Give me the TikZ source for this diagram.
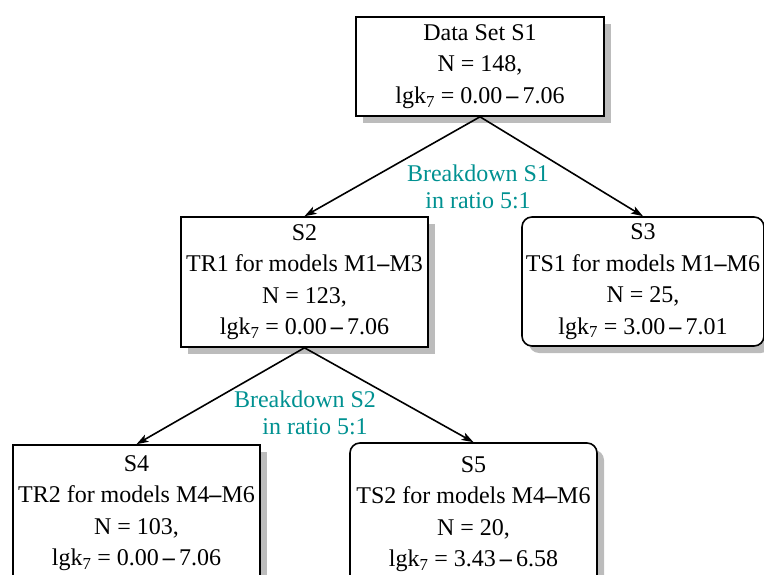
\documentclass[tikz,border=0pt]{standalone}
\usepackage{fontspec}
\setmainfont{Liberation Serif}
\usetikzlibrary{shadows,arrows.meta}
\definecolor{labelteal}{RGB}{0,145,145}
\definecolor{shadowgray}{RGB}{188,188,188}
\newcommand\lgkseven{lgk\textsubscript{7}}
\newcommand\dsh{\textbf{–}}
\newcommand\rng[2]{#1\,\dsh\,#2}

\begin{document}
\begin{tikzpicture}[x=1pt,y=-1pt,
  setbox/.style={draw=black, line width=1.6pt, fill=white, align=center,
    inner sep=0pt, minimum width=247pt, minimum height=130pt,
    font=\fontsize{24}{31.5}\selectfont,
    drop shadow={shadow xshift=7pt, shadow yshift=-7pt, fill=shadowgray, opacity=1}},
  testbox/.style={setbox, rounded corners=10pt},
  splitnote/.style={text=labelteal, align=center, inner sep=0pt,
    font=\fontsize{24}{27}\selectfont},
  link/.style={-{Stealth[length=12pt,width=8pt,inset=3pt]}, line width=1.6pt}
]
\useasboundingbox (0,0) rectangle (764,575);

% data sets
\node[setbox, minimum width=248pt, minimum height=99pt] (s1) at (480,66.5)
  {Data Set S1\\ N = 148,\\ \lgkseven{} = \rng{0.00}{7.06}};
\node[setbox] (s2) at (304.5,282)
  {S2\\ TR1 for models M1\dsh M3\\ N = 123,\\ \lgkseven{} = \rng{0.00}{7.06}};
\node[testbox, minimum width=242pt, minimum height=129pt] (s3) at (643,281.5)
  {S3\\ TS1 for models M1\dsh M6\\ N = 25,\\ \lgkseven{} = \rng{3.00}{7.01}};
\node[setbox, minimum height=136pt] (s4) at (136.5,513)
  {S4\\ TR2 for models M4\dsh M6\\ N = 103,\\ \lgkseven{} = \rng{0.00}{7.06}};
\node[testbox, minimum height=142pt] (s5) at (473.5,514)
  {S5\\ TS2 for models M4\dsh M6\\ N = 20,\\ \lgkseven{} = \rng{3.43}{6.58}};

% splitting notes
\node[splitnote] (b1) at (478,187) {Breakdown S1\\ in ratio 5:1};
\node[splitnote] (b2) at (305,413) {Breakdown S2\\ \hspace*{20pt}in ratio 5:1};

% connectors
\draw[link] (s1.south) -- (s2.north);
\draw[link] (s1.south) -- (s3.north);
\draw[link] (s2.south) -- (s4.north);
\draw[link] (s2.south) -- (s5.north);
\end{tikzpicture}
\end{document}
